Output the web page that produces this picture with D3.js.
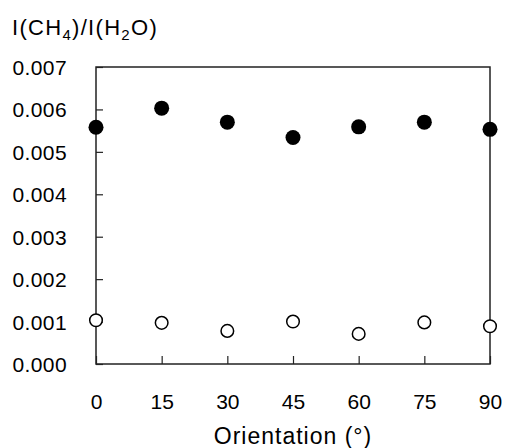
<!DOCTYPE html>
<html>
<head>
<meta charset="utf-8">
<script src="https://cdn.jsdelivr.net/npm/d3@7"></script>
<style>
  body { margin: 0; background: #fff; }
  svg { display: block; font-family: "Liberation Sans", Arial, sans-serif; }
</style>
</head>
<body>
<svg id="chart" width="506" height="448"></svg>
<script>
const orientations = [0, 15, 30, 45, 60, 75, 90];
const filledValues = [0.00558, 0.00603, 0.00570, 0.00534, 0.00559, 0.00570, 0.00553];
const openValues = [0.00103, 0.00097, 0.00078, 0.00100, 0.00071, 0.00098, 0.00089];
const yTicks = [0, 0.001, 0.002, 0.003, 0.004, 0.005, 0.006, 0.007];

const margin = { top: 67, right: 16, bottom: 84, left: 96 };
const width = 506 - margin.left - margin.right;
const height = 448 - margin.top - margin.bottom;

const svg = d3.select("#chart");
const g = svg.append("g").attr("transform", `translate(${margin.left},${margin.top})`);

const x = d3.scaleLinear().domain([0, 90]).range([0, width]);
const y = d3.scaleLinear().domain([0, 0.007]).range([height, 0]);

// frame
g.append("rect")
  .attr("width", width)
  .attr("height", height)
  .attr("fill", "none")
  .attr("stroke", "#222")
  .attr("stroke-width", 1.5);

// x axis, ticks pointing in
const xAxis = g.append("g")
  .attr("transform", `translate(0,${height})`)
  .call(d3.axisBottom(x).tickValues(orientations).tickSizeInner(-8).tickSizeOuter(0));
xAxis.select(".domain").remove();
xAxis.selectAll(".tick line").attr("stroke", "#222").attr("stroke-width", 1.2);
xAxis.selectAll(".tick text")
  .attr("fill", "#000")
  .attr("y", 45)
  .attr("dy", 0)
  .style("font-size", "21px");

// y axis, ticks pointing in
const yAxis = g.append("g")
  .call(d3.axisLeft(y).tickValues(yTicks).tickFormat(d3.format(".3f")).tickSizeInner(-7).tickSizeOuter(0));
yAxis.select(".domain").remove();
yAxis.selectAll(".tick line").attr("stroke", "#222").attr("stroke-width", 1.2);
yAxis.selectAll(".tick text")
  .attr("fill", "#000")
  .attr("x", -29)
  .attr("dy", "0.36em")
  .style("font-size", "21px")
  .style("letter-spacing", "0.4px");

// points
g.append("g").selectAll("circle")
  .data(orientations.map((o, i) => ({ o, v: openValues[i] })))
  .join("circle")
  .attr("cx", d => x(d.o))
  .attr("cy", d => y(d.v))
  .attr("r", 6.3)
  .attr("fill", "#fff")
  .attr("stroke", "#000")
  .attr("stroke-width", 1.5);

g.append("g").selectAll("circle")
  .data(orientations.map((o, i) => ({ o, v: filledValues[i] })))
  .join("circle")
  .attr("cx", d => x(d.o))
  .attr("cy", d => y(d.v))
  .attr("r", 7.5)
  .attr("fill", "#000");

// axis title
svg.append("text")
  .attr("x", margin.left + width / 2)
  .attr("y", 444)
  .attr("text-anchor", "middle")
  .style("font-size", "23px")
  .style("letter-spacing", "1px")
  .text("Orientation (°)");

// y label
const yl = svg.append("text")
  .attr("x", 12)
  .attr("y", 35)
  .style("font-size", "22px")
  .style("letter-spacing", "1.3px");
yl.append("tspan").text("I(CH");
yl.append("tspan").attr("dy", 5).style("font-size", "15px").text("4");
yl.append("tspan").attr("dy", -5).text(")/I(H");
yl.append("tspan").attr("dy", 5).style("font-size", "15px").text("2");
yl.append("tspan").attr("dy", -5).text("O)");
</script>
</body>
</html>
